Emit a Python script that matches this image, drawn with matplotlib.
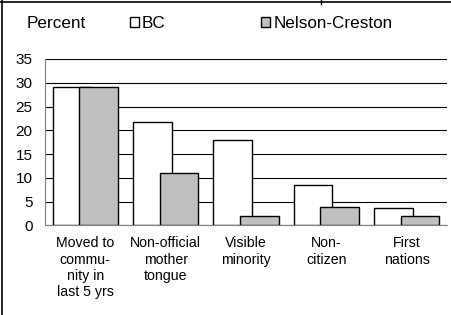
import matplotlib
matplotlib.use("Agg")
import matplotlib.pyplot as plt
from matplotlib.lines import Line2D
import numpy as np

plt.rcParams['font.family'] = ['Liberation Sans', 'DejaVu Sans']

categories = ["Moved to\ncommu-\nnity in\nlast 5 yrs", "Non-official\nmother\ntongue",
              "Visible\nminority", "Non-\ncitizen", "First\nnations"]
bc = [29.2, 21.7, 17.9, 8.5, 3.7]
nelson = [29.2, 11.1, 2.0, 3.8, 2.0]
series_names = ["BC", "Nelson-Creston"]

fig = plt.figure(figsize=(4.51, 3.15), dpi=100)
ax = fig.add_axes([0.0998, 0.2848, 0.8914, 0.5279])

x = np.arange(len(categories))
w = 0.48
off = 0.165
b1 = ax.bar(x - off, bc, w, color="white", edgecolor="black", linewidth=1, zorder=3, label=series_names[0])
b2 = ax.bar(x + off, nelson, w, color="#c0c0c0", edgecolor="black", linewidth=1, zorder=4, label=series_names[1])

ax.set_xlim(-0.5, len(categories) - 0.5)
ax.set_ylim(0, 35)
ax.set_yticks(range(0, 36, 5))
ax.yaxis.grid(True, color="black", linewidth=0.8, zorder=0)
ax.set_axisbelow(True)
for s in ["top", "right"]:
    ax.spines[s].set_visible(False)
ax.spines["left"].set_color("#808080")
ax.spines["bottom"].set_color("#808080")
ax.tick_params(axis="y", length=0, pad=9, labelsize=11)
ax.tick_params(axis="x", length=0, pad=8, labelsize=10.2)
ax.set_xticks(x)
ax.set_xticklabels(categories, linespacing=1.2)

fig.text(27 / 451, 1 - 23 / 315, "Percent", fontsize=12.3, va="center", ha="left")
fig.legend(handles=[b1, b2], labels=series_names, loc="center left",
           bbox_to_anchor=(130 / 451, 1 - 23.5 / 315), ncol=2, frameon=False,
           fontsize=12.3, handlelength=0.5, handleheight=0.5, handletextpad=0.2,
           columnspacing=5.6, borderaxespad=0, borderpad=0)

# outer frame (left and top edges)
fig.add_artist(Line2D([1.5 / 451, 1.5 / 451], [0, 1], color="black", linewidth=1.2))
fig.add_artist(Line2D([0, 1], [1 - 1.5 / 315, 1 - 1.5 / 315], color="black", linewidth=1.2))
fig.add_artist(Line2D([321 / 451, 321 / 451], [1, 1 - 4 / 315], color="black", linewidth=1))

fig.savefig("out.png", dpi=100)
